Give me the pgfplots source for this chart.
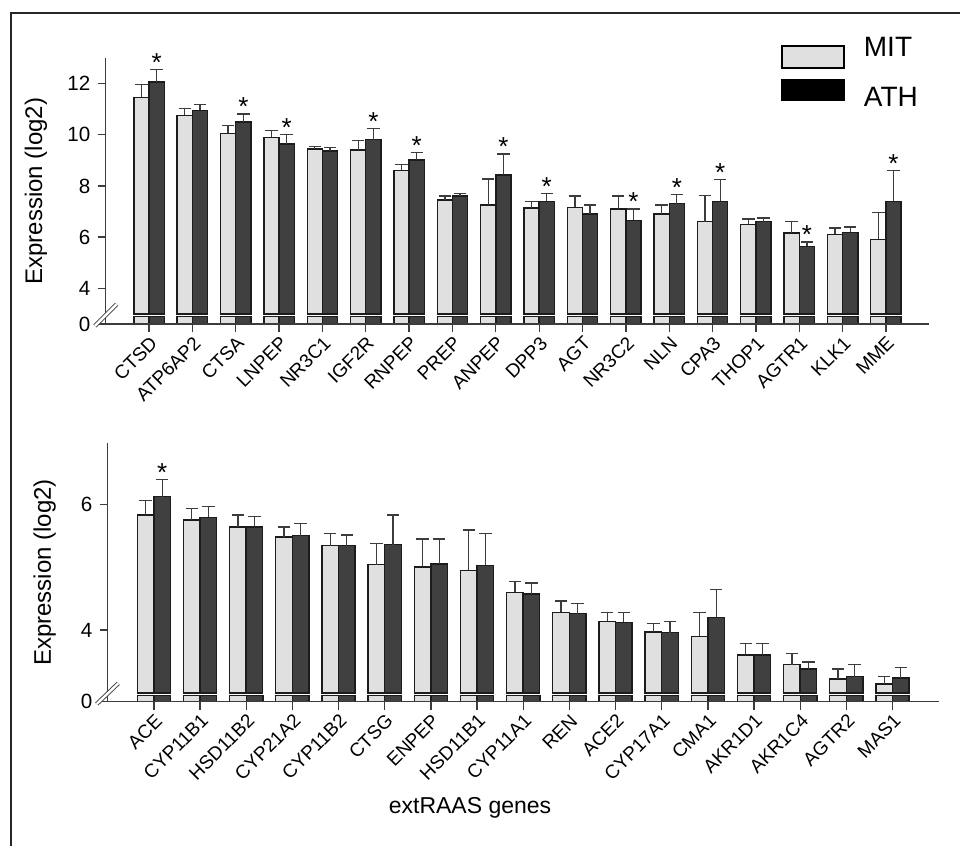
\documentclass[border=0pt]{standalone}
\usepackage{pgfplots}
\pgfplotsset{compat=1.18}
\usepackage{pgfplotstable}
\usepackage{fontspec}
\setmainfont{Liberation Sans}
\definecolor{mitgray}{RGB}{224,224,224}
\definecolor{athgray}{RGB}{64,64,64}
\definecolor{edgecol}{RGB}{28,28,28}
\definecolor{axiscol}{RGB}{60,60,60}

\pgfplotstableread{
x mit mitsd ath athsd star
0 11.46 0.51 12.06 0.50 1
1 10.76 0.26 10.96 0.21 0
2 10.05 0.31 10.50 0.31 1
3 9.90 0.26 9.64 0.36 1
4 9.45 0.10 9.36 0.14 0
5 9.41 0.36 9.81 0.44 1
6 8.61 0.24 9.02 0.28 1
7 7.45 0.16 7.60 0.10 0
8 7.26 1.01 8.42 0.83 1
9 7.14 0.26 7.40 0.30 1
10 7.16 0.45 6.91 0.35 0
11 7.10 0.51 6.65 0.45 1
12 6.91 0.35 7.31 0.35 1
13 6.61 1.02 7.40 0.86 1
14 6.50 0.21 6.61 0.14 0
15 6.16 0.45 5.64 0.17 1
16 6.11 0.25 6.19 0.21 0
17 5.91 1.05 7.40 1.20 1
}\toptable

\pgfplotstableread{
x mit mitsd ath athsd star
0 5.83 0.23 6.12 0.27 1
1 5.75 0.18 5.79 0.18 0
2 5.64 0.19 5.64 0.17 0
3 5.48 0.16 5.50 0.19 0
4 5.34 0.20 5.34 0.17 0
5 5.04 0.34 5.36 0.47 0
6 5.00 0.45 5.05 0.40 0
7 4.95 0.64 5.03 0.50 0
8 4.60 0.17 4.57 0.18 0
9 4.28 0.18 4.26 0.16 0
10 4.14 0.14 4.12 0.16 0
11 3.97 0.13 3.96 0.18 0
12 3.90 0.38 4.20 0.45 0
13 3.60 0.19 3.60 0.19 0
14 3.45 0.18 3.38 0.11 0
15 3.22 0.16 3.26 0.19 0
16 3.14 0.12 3.24 0.16 0
}\bottomtable

\pgfplotsset{
  panel/.style={
    scale only axis, anchor=south west,
    axis lines*=left,
    axis line style={axiscol, line width=0.65pt},
    tick style={axiscol, line width=0.65pt},
    tick align=outside, major tick length=4pt,
    clip=false,
    xticklabel style={rotate=45, anchor=north east, inner sep=1pt, font=\fontsize{9.5}{10}\selectfont},
    yticklabel style={font=\fontsize{10.3}{11}\selectfont, inner xsep=3.5pt, inner ysep=1pt},
    ylabel style={anchor=center, font=\fontsize{12}{13}\selectfont},
    /pgf/number format/assume math mode=true,
  },
  overlay/.style={scale only axis, anchor=south west, hide axis, clip=false},
  mitbar/.style={ybar, fill=mitgray, draw=edgecol, line width=0.7pt},
  athbar/.style={ybar, fill=athgray, draw=edgecol, line width=0.7pt},
  errs/.style={forget plot, sharp plot, draw=none, mark=none,
    error bars/.cd, y dir=plus, y explicit, error mark=|,
    error bar style={draw=axiscol, line width=0.65pt},
    error mark options={draw=axiscol, line width=0.65pt, mark size=3.1pt}},
  stars/.style={forget plot, black, only marks, mark=text, text mark={*},
    text mark as node=true,
    text mark style={font=\fontsize{13}{13}\selectfont, yshift=3.6pt, inner sep=0pt},
    restrict expr to domain={\thisrow{star}}{0.5:1.5}},
}

\begin{document}
\begin{tikzpicture}
\useasboundingbox (0pt,0pt) rectangle (480pt,-423pt);
\draw[black!85, line width=1pt] (5.35pt,-423pt) -- (5.35pt,-6.35pt) -- (480pt,-6.35pt);

% ---------- top panel: stubs below the break ----------
\begin{axis}[overlay, at={(52.85pt,-162pt)}, width=411.8pt, height=133pt,
  xmin=-1, xmax=18, ymin=0, ymax=10.395]
\addplot[mitbar, bar width=7.6pt, bar shift=-3.8pt] coordinates {
(0,0.285)(1,0.285)(2,0.285)(3,0.285)(4,0.285)(5,0.285)(6,0.285)(7,0.285)(8,0.285)
(9,0.285)(10,0.285)(11,0.285)(12,0.285)(13,0.285)(14,0.285)(15,0.285)(16,0.285)(17,0.285)};
\addplot[athbar, bar width=7.6pt, bar shift=3.8pt] coordinates {
(0,0.285)(1,0.285)(2,0.285)(3,0.285)(4,0.285)(5,0.285)(6,0.285)(7,0.285)(8,0.285)
(9,0.285)(10,0.285)(11,0.285)(12,0.285)(13,0.285)(14,0.285)(15,0.285)(16,0.285)(17,0.285)};
\end{axis}

% ---------- top panel: main ----------
\begin{axis}[panel, at={(52.85pt,-162pt)}, width=411.8pt, height=133pt,
  xmin=-1, xmax=18, ymin=-0.395, ymax=10,
  xtick={0,...,17},
  xticklabels={CTSD,ATP6AP2,CTSA,LNPEP,NR3C1,IGF2R,RNPEP,PREP,ANPEP,DPP3,AGT,NR3C2,NLN,CPA3,THOP1,AGTR1,KLK1,MME},
  ytick={-0.395,1,3,5,7,9}, yticklabels={0,4,6,8,10,12},
  ylabel={Expression (log2)},
  ylabel style={at={(axis description cs:-0.0846,0.5)}},
  legend cell align=left,
  legend style={at={(0.8196,1.12)}, anchor=north west, draw=none, fill=none,
    inner sep=0pt, outer sep=0pt, row sep=5.2pt, column sep=9.3pt,
    nodes={inner sep=0pt, text depth=0pt, font=\fontsize{14}{16}\selectfont}},
]
\addlegendimage{legend image code/.code={\path (0pt,-10.3pt) (0pt,10.3pt);
  \draw[fill=mitgray, draw=black, line width=1pt] (0pt,-10.3pt) rectangle (31.3pt,0.35pt);}}
\addlegendentry{MIT}
\addlegendimage{legend image code/.code={\path (0pt,-8.9pt) (0pt,8.9pt);
  \fill[black] (0pt,-1.7pt) rectangle (31.3pt,8.9pt);}}
\addlegendentry{ATH}
\addplot[mitbar, bar width=7.6pt, bar shift=-3.8pt, forget plot]
  table[x=x, y expr=\thisrow{mit}-3] {\toptable};
\addplot[athbar, bar width=7.6pt, bar shift=3.8pt, forget plot]
  table[x=x, y expr=\thisrow{ath}-3] {\toptable};
\addplot[errs] table[x expr=\thisrow{x}-0.1753, y expr=\thisrow{mit}-3, y error=mitsd] {\toptable};
\addplot[errs] table[x expr=\thisrow{x}+0.1753, y expr=\thisrow{ath}-3, y error=athsd] {\toptable};
\addplot[stars] table[x expr=\thisrow{x}+0.1753, y expr={\thisrow{ath}+\thisrow{athsd}-3}] {\toptable};
\draw[axiscol, line width=0.45pt, double=white, double distance=1.2pt]
  (rel axis cs:0,0) ++(-5.4pt,-1pt) -- ++(10.85pt,10.85pt);
\end{axis}

% ---------- bottom panel: stubs ----------
\begin{axis}[overlay, at={(53.85pt,-350.85pt)}, width=415.5pt, height=129.2pt,
  xmin=-1, xmax=17, ymin=0, ymax=4.11]
\addplot[mitbar, bar width=8.3pt, bar shift=-4.15pt] coordinates {
(0,0.095)(1,0.095)(2,0.095)(3,0.095)(4,0.095)(5,0.095)(6,0.095)(7,0.095)(8,0.095)
(9,0.095)(10,0.095)(11,0.095)(12,0.095)(13,0.095)(14,0.095)(15,0.095)(16,0.095)};
\addplot[athbar, bar width=8.3pt, bar shift=4.15pt] coordinates {
(0,0.095)(1,0.095)(2,0.095)(3,0.095)(4,0.095)(5,0.095)(6,0.095)(7,0.095)(8,0.095)
(9,0.095)(10,0.095)(11,0.095)(12,0.095)(13,0.095)(14,0.095)(15,0.095)(16,0.095)};
\end{axis}

% ---------- bottom panel: main ----------
\begin{axis}[panel, at={(53.85pt,-350.85pt)}, width=415.5pt, height=129.2pt,
  xmin=-1, xmax=17, ymin=-0.14, ymax=3.97,
  xtick={0,...,16},
  xticklabels={ACE,CYP11B1,HSD11B2,CYP21A2,CYP11B2,CTSG,ENPEP,HSD11B1,CYP11A1,REN,ACE2,CYP17A1,CMA1,AKR1D1,AKR1C4,AGTR2,MAS1},
  ytick={-0.14,1,3}, yticklabels={0,4,6},
  ylabel={Expression (log2)},
  ylabel style={at={(axis description cs:-0.0758,0.5)}},
  xlabel={extRAAS genes},
  xlabel style={at={(axis description cs:0.436,-0.411)}, anchor=center, font=\fontsize{11.5}{13}\selectfont},
]
\addplot[mitbar, bar width=8.3pt, bar shift=-4.15pt]
  table[x=x, y expr=\thisrow{mit}-3] {\bottomtable};
\addplot[athbar, bar width=8.3pt, bar shift=4.15pt]
  table[x=x, y expr=\thisrow{ath}-3] {\bottomtable};
\addplot[errs] table[x expr=\thisrow{x}-0.1798, y expr=\thisrow{mit}-3, y error=mitsd] {\bottomtable};
\addplot[errs] table[x expr=\thisrow{x}+0.1798, y expr=\thisrow{ath}-3, y error=athsd] {\bottomtable};
\addplot[stars] table[x expr=\thisrow{x}+0.1798, y expr={\thisrow{ath}+\thisrow{athsd}-3}] {\bottomtable};
\draw[axiscol, line width=0.45pt, double=white, double distance=1.2pt]
  (rel axis cs:0,0) ++(-5.5pt,-1.15pt) -- ++(10.8pt,10.35pt);
\end{axis}
\end{tikzpicture}
\end{document}
